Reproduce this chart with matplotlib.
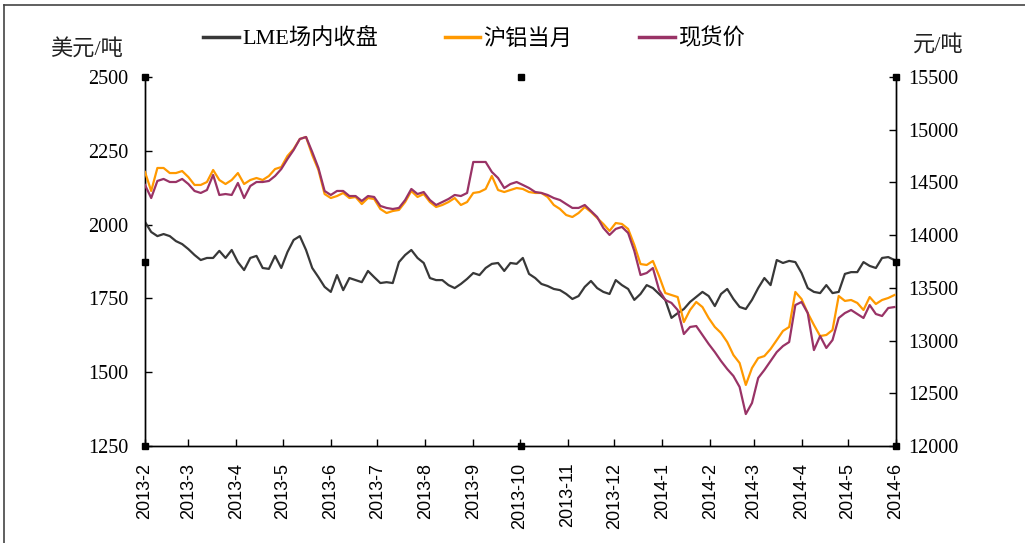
import matplotlib
matplotlib.use('Agg')
import matplotlib.pyplot as plt
from matplotlib.lines import Line2D
from matplotlib.font_manager import FontProperties
import pandas as pd

# ---------------- data ----------------
dates = pd.date_range('2013-02-01', periods=122, freq='4D')

lme_close = [
    2009, 1975, 1961, 1968, 1961, 1944, 1934, 1917, 1897, 1880,
    1887, 1887, 1911, 1887, 1914, 1873, 1846, 1887, 1894, 1853,
    1850, 1894, 1853, 1907, 1948, 1961, 1914, 1853, 1822, 1789,
    1772, 1829, 1778, 1819, 1812, 1805, 1843, 1822, 1802, 1805,
    1802, 1873, 1897, 1914, 1887, 1870, 1819, 1812, 1812, 1795,
    1785, 1799, 1816, 1836, 1829, 1853, 1867, 1870, 1843, 1870,
    1867, 1887, 1833, 1819, 1799, 1792, 1782, 1778, 1765, 1748,
    1758, 1789, 1809, 1785, 1772, 1765, 1812, 1795, 1782, 1745,
    1765, 1795, 1785, 1765, 1745, 1684, 1700, 1714, 1738, 1755,
    1772, 1758, 1724, 1765, 1782, 1748, 1721, 1714, 1745, 1785,
    1819, 1795, 1880, 1870, 1877, 1873, 1836, 1785, 1772, 1768,
    1795, 1768, 1772, 1833, 1839, 1839, 1873, 1860, 1853, 1887,
    1890, 1880]

shfe_month = [
    14599, 14419, 14637, 14637, 14589, 14589, 14608, 14551, 14476, 14476,
    14504, 14618, 14523, 14485, 14523, 14589, 14485, 14523, 14542, 14523,
    14561, 14627, 14646, 14751, 14817, 14912, 14931, 14760, 14618, 14390,
    14352, 14371, 14400, 14352, 14362, 14295, 14352, 14343, 14248, 14210,
    14229, 14239, 14314, 14419, 14362, 14390, 14314, 14267, 14286, 14314,
    14352, 14286, 14314, 14400, 14409, 14438, 14561, 14428, 14409, 14428,
    14447, 14438, 14409, 14400, 14400, 14362, 14286, 14248, 14191, 14172,
    14210, 14267, 14220, 14163, 14106, 14040, 14115, 14106, 14059, 13907,
    13726, 13717, 13755, 13612, 13451, 13432, 13413, 13176, 13290, 13366,
    13318, 13214, 13129, 13072, 12986, 12863, 12787, 12579, 12740, 12834,
    12853, 12920, 13005, 13091, 13129, 13461, 13394, 13261, 13148, 13043,
    13053, 13100, 13423, 13376, 13385, 13357, 13290, 13413, 13347, 13385,
    13404, 13432]

spot_price = [
    14476, 14352, 14514, 14533, 14504, 14504, 14533, 14485, 14419, 14400,
    14428, 14571, 14381, 14390, 14381, 14495, 14352, 14466, 14504, 14504,
    14514, 14561, 14627, 14722, 14808, 14912, 14931, 14789, 14637, 14419,
    14381, 14419, 14419, 14371, 14371, 14324, 14371, 14362, 14277, 14258,
    14248, 14258, 14333, 14438, 14390, 14409, 14333, 14286, 14314, 14343,
    14381, 14371, 14400, 14694, 14694, 14694, 14599, 14542, 14447, 14485,
    14504, 14476, 14447, 14409, 14400, 14381, 14352, 14333, 14295, 14258,
    14258, 14286, 14229, 14172, 14068, 14002, 14059, 14078, 14021, 13850,
    13622, 13641, 13688, 13480, 13385, 13357, 13290, 13062, 13129, 13138,
    13053, 12968, 12891, 12806, 12730, 12664, 12560, 12303, 12408, 12645,
    12721, 12806, 12891, 12948, 12986, 13337, 13366, 13261, 12910, 13043,
    12930, 13005, 13214, 13261, 13290, 13252, 13214, 13337, 13252, 13233,
    13309, 13318]

series_names = ['LME场内收盘', '沪铝当月', '现货价']
left_ticks = [1250, 1500, 1750, 2000, 2250, 2500]
right_ticks = [12000, 12500, 13000, 13500, 14000, 14500, 15000, 15500]
month_ticks = pd.date_range('2013-02-01', '2014-06-01', freq='MS')
month_labels = [f'{d.year}-{d.month}' for d in month_ticks]

# ---------------- styling ----------------
C_LME = '#383838'
C_SHFE = '#FF9900'
C_SPOT = '#993366'
SERIF = 'Liberation Serif'
CJK = 'Noto Sans CJK SC'
MIX = [SERIF, CJK, 'DejaVu Sans']
LW = 1.6

fig = plt.figure(figsize=(10.25, 5.43), dpi=100)
ax = fig.add_axes([145/1025, 1-446/543, (896-145)/1025, (446-77)/543])
ax2 = ax.twinx()

ax.plot(dates, lme_close, color=C_LME, lw=LW, zorder=3)
ax2.plot(dates, shfe_month, color=C_SHFE, lw=LW, zorder=3)
ax2.plot(dates, spot_price, color=C_SPOT, lw=LW, zorder=4)

ax.set_xlim(pd.Timestamp('2013-02-01'), pd.Timestamp('2014-06-01'))
ax.set_ylim(1250, 2500)
ax2.set_ylim(12000, 15500)
ax.set_yticks(left_ticks)
ax2.set_yticks(right_ticks)
ax.set_xticks(month_ticks)
ax.set_xticklabels(month_labels, rotation=90, family='Liberation Sans', fontsize=13)

for a in (ax, ax2):
    a.spines['top'].set_visible(False)
    for s in ('left', 'right', 'bottom'):
        a.spines[s].set_linewidth(1.0)
        a.spines[s].set_color('black')
    a.patch.set_visible(False)

ax.tick_params(axis='y', direction='in', length=5, width=1, pad=12)
ax.tick_params(axis='x', direction='in', length=5, width=1, pad=12)
ax2.tick_params(axis='y', direction='in', length=5, width=1, pad=9)
for lab in ax.get_yticklabels() + ax2.get_yticklabels():
    lab.set_family(SERIF)
    lab.set_fontsize(14.5)

# unit labels
fig.text(50/1025, 1-50/543, '美元/吨', family=MIX, fontsize=16, va='center', ha='left', color='#222222')
fig.text(913/1025, 1-45/543, '元/吨', family=MIX, fontsize=16, va='center', ha='left', color='#222222')

# legend
handles = [Line2D([], [], color=C_LME, lw=2.5),
           Line2D([], [], color=C_SHFE, lw=2.5),
           Line2D([], [], color=C_SPOT, lw=2.5)]
fig.legend(handles, series_names, loc='center', bbox_to_anchor=(474/1025, 1-39/543),
           ncol=3, frameon=False, prop=FontProperties(family=MIX, size=16),
           handlelength=1.6, handletextpad=0.15, columnspacing=3.0)

# selection handles of the chart object
for (hx, hy) in [(0, 1), (0.5, 1), (1, 1), (0, 0.5), (1, 0.5), (0, 0), (0.5, 0), (1, 0)]:
    ax.plot([hx], [hy], marker='s', ms=5, color='black', transform=ax.transAxes,
            clip_on=False, zorder=10)

# outer frame (top and left edge)
fig.add_artist(Line2D([0.004, 1], [0.991, 0.991], transform=fig.transFigure, color='#444444', lw=1.2))
fig.add_artist(Line2D([0.004, 0.004], [0, 0.991], transform=fig.transFigure, color='#444444', lw=1.2))

fig.savefig('out.png', dpi=100)
